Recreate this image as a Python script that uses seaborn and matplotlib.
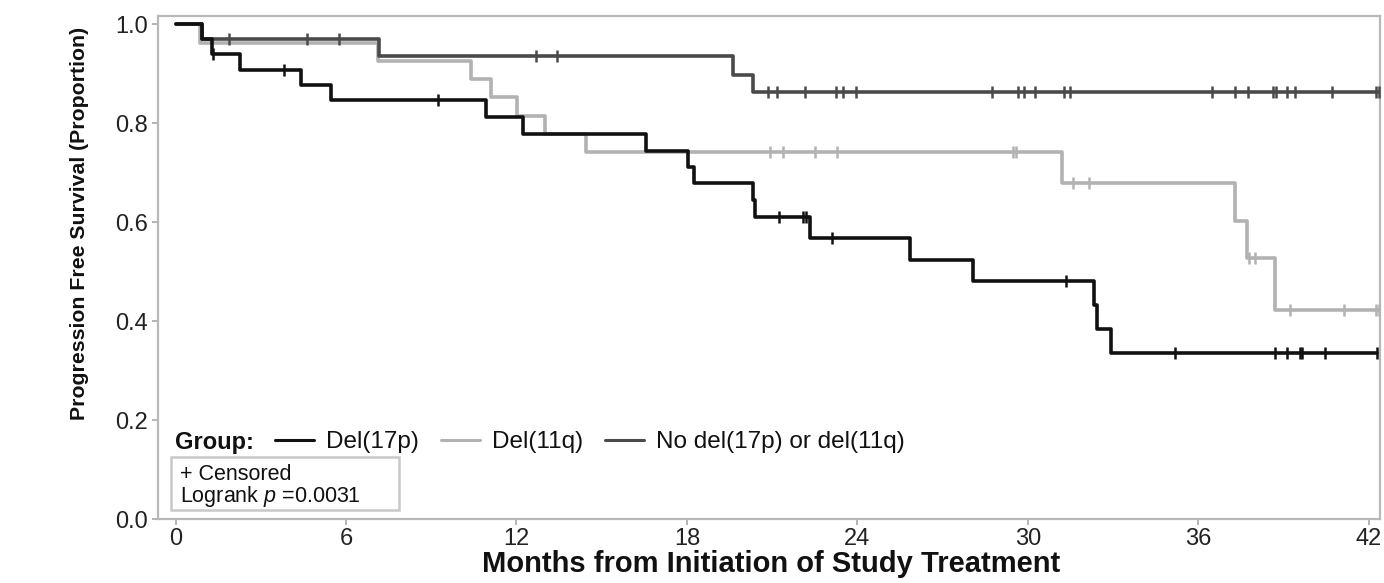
import numpy as np
import pandas as pd
import matplotlib
matplotlib.use("Agg")
import matplotlib.pyplot as plt
from matplotlib.lines import Line2D
from matplotlib.patches import Rectangle
import seaborn as sns

# ---------------- data ----------------
groups = ["Del(17p)", "Del(11q)", "No del(17p) or del(11q)"]

del17p_event_times = [0.92, 1.28, 2.27, 4.42, 5.48, 10.91, 12.24, 16.57, 18.03, 18.24,
                      20.32, 20.39, 22.34, 25.85, 28.06, 32.33, 32.45, 32.94]
del17p_surv = [0.970, 0.940, 0.908, 0.877, 0.846, 0.813, 0.778, 0.744, 0.712, 0.679,
               0.644, 0.610, 0.568, 0.523, 0.481, 0.433, 0.384, 0.336]
del17p_censor = [1.30, 3.83, 9.22, 21.23, 22.07, 22.19, 23.10, 31.35, 35.17, 38.69,
                 39.13, 39.58, 39.66, 40.48, 42.28]

del11q_event_times = [0.85, 7.13, 10.41, 11.09, 12.03, 13.00, 14.43, 31.21, 37.29, 37.73, 38.69]
del11q_surv = [0.962, 0.926, 0.889, 0.852, 0.815, 0.778, 0.741, 0.679, 0.602, 0.527, 0.422]
del11q_censor = [20.93, 21.40, 22.52, 23.28, 29.47, 29.59, 31.59, 32.17, 37.80, 38.01,
                 39.22, 41.13, 42.25, 42.37]

nodel_event_times = [0.92, 7.17, 19.63, 20.33]
nodel_surv = [0.969, 0.935, 0.898, 0.862]
nodel_censor = [1.89, 4.62, 5.76, 12.70, 13.41, 20.87, 21.17, 22.16, 23.25, 23.48, 23.95,
                28.75, 29.65, 29.88, 30.27, 31.29, 31.50, 36.50, 37.29, 37.76, 38.64,
                38.73, 39.11, 39.40, 40.70, 42.25, 42.38]

x_ticks = [0, 6, 12, 18, 24, 30, 36, 42]
y_ticks = [0.0, 0.2, 0.4, 0.6, 0.8, 1.0]
logrank_text = "Logrank $p$ =0.0031"

colors = {"Del(17p)": "#111111", "Del(11q)": "#b2b2b2", "No del(17p) or del(11q)": "#4a4a4a"}

# ---------------- build frames ----------------
series = {
    "Del(17p)": (del17p_event_times, del17p_surv, del17p_censor),
    "Del(11q)": (del11q_event_times, del11q_surv, del11q_censor),
    "No del(17p) or del(11q)": (nodel_event_times, nodel_surv, nodel_censor),
}
line_rows, cens_rows = [], []
for g, (t, s, c) in series.items():
    tt = [0.0] + list(t) + [max(c)]
    ss = [1.0] + list(s) + [s[-1]]
    for a, b in zip(tt, ss):
        line_rows.append({"group": g, "time": a, "surv": b})
    full = np.array([1.0] + list(s))
    idx = np.searchsorted(np.array(t), np.array(c), side="right")
    for ci, si in zip(c, full[idx]):
        cens_rows.append({"group": g, "time": ci, "surv": si})
lines_df = pd.DataFrame(line_rows)
cens_df = pd.DataFrame(cens_rows)

# ---------------- plot ----------------
sns.set_theme(style="white")
plt.rcParams["font.family"] = ["Liberation Sans", "DejaVu Sans"]
plt.rcParams["mathtext.fontset"] = "custom"
plt.rcParams["mathtext.it"] = "Liberation Sans:italic"
plt.rcParams["mathtext.rm"] = "Liberation Sans"

fig = plt.figure(figsize=(13.84, 5.83), dpi=100)
ax = fig.add_axes([158.3 / 1384, 64 / 583, 1221.7 / 1384, 503 / 583])

draw_order = ["Del(11q)", "No del(17p) or del(11q)", "Del(17p)"]
sns.lineplot(data=lines_df, x="time", y="surv", hue="group", hue_order=draw_order,
             palette=colors, estimator=None, sort=False, drawstyle="steps-post",
             linewidth=2.6, legend=False, ax=ax)
sns.scatterplot(data=cens_df, x="time", y="surv", hue="group", hue_order=draw_order,
                palette=colors, marker="|", s=75, linewidth=1.8, legend=False,
                ax=ax, clip_on=False, zorder=3)

ax.set_xlim(-0.61, 42.40)
ax.set_ylim(0, 1.0162)
ax.set_xticks(x_ticks)
ax.set_xticklabels([str(v) for v in x_ticks])
ax.set_yticks(y_ticks)
ax.set_yticklabels([f"{v:.1f}" for v in y_ticks])
ax.tick_params(axis="both", which="major", direction="out", length=4.5, width=1.2,
               color="#a8a8a8", labelsize=17, labelcolor="#222222", pad=3,
               bottom=True, left=True)
ax.tick_params(axis="x", pad=2)

for sp in ax.spines.values():
    sp.set_color("#b8b8b8")
    sp.set_linewidth(1.6)

ax.set_xlabel("Months from Initiation of Study Treatment", fontsize=21,
              fontweight="bold", color="#111111")
ax.set_ylabel("Progression Free Survival (Proportion)", fontsize=15.3,
              fontweight="bold", color="#111111")
ax.xaxis.set_label_coords(0.5015, -0.062)
ax.yaxis.set_label_coords(-0.057, 0.588)

# legend row
ax.text(0.0137, 0.153, "Group:", transform=ax.transAxes, fontsize=17,
        fontweight="bold", va="center", ha="left", color="#111111")
legend_order = ["Del(17p)", "Del(11q)", "No del(17p) or del(11q)"]
handles = [Line2D([0], [0], color=colors[g], lw=2.2) for g in legend_order]
leg = ax.legend(handles, legend_order, ncol=3, loc="center left",
                bbox_to_anchor=(0.0955, 0.153), frameon=False, fontsize=17.5,
                handlelength=1.6, handletextpad=0.5, columnspacing=0.9,
                borderpad=0, borderaxespad=0)
for txt in leg.get_texts():
    txt.set_color("#111111")

# censored / logrank box
ax.add_patch(Rectangle((0.0101, 0.0179), 0.1871, 0.1048, transform=ax.transAxes,
                       facecolor="white", edgecolor="#c8c8c8", linewidth=1.8, zorder=4))
ax.text(0.0178, 0.0880, "+ Censored", transform=ax.transAxes, fontsize=15.5,
        va="center", ha="left", color="#111111", zorder=5)
ax.text(0.0178, 0.0445, logrank_text, transform=ax.transAxes, fontsize=15.5,
        va="center", ha="left", color="#111111", zorder=5)

fig.savefig("out.png", dpi=100)
